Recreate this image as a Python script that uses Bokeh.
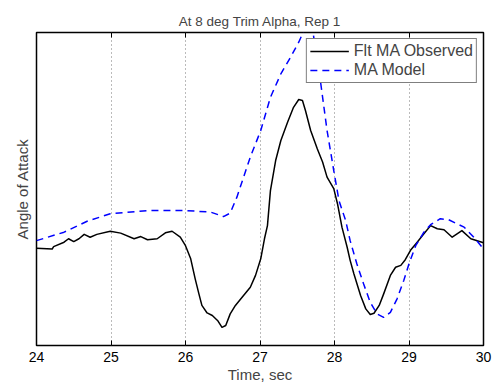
from bokeh.plotting import figure
from bokeh.models import Range1d, LinearAxis, FixedTicker, Legend, LegendItem
from bokeh.embed import file_html
from bokeh.resources import INLINE

# Observed flight data (time, angle of attack in arbitrary units)
obs_t = [24.00, 24.21, 24.23, 24.37, 24.43, 24.50, 24.57, 24.64, 24.72, 24.81,
         24.99, 25.13, 25.31, 25.40, 25.49, 25.62, 25.73, 25.82, 25.93, 26.00,
         26.07, 26.13, 26.18, 26.22, 26.29, 26.36, 26.43, 26.49, 26.54, 26.60,
         26.67, 26.76, 26.87, 26.94, 27.01, 27.06, 27.10, 27.14, 27.21, 27.28,
         27.37, 27.45, 27.52, 27.57, 27.61, 27.68, 27.77, 27.84, 27.90, 27.99,
         28.04, 28.10, 28.17, 28.21, 28.26, 28.35, 28.42, 28.48, 28.53, 28.60,
         28.66, 28.75, 28.82, 28.89, 28.95, 29.02, 29.11, 29.20, 29.29, 29.38,
         29.47, 29.58, 29.71, 29.83, 30.00]
obs_y = [3.11, 3.08, 3.16, 3.30, 3.41, 3.32, 3.41, 3.55, 3.46, 3.55,
         3.65, 3.59, 3.41, 3.48, 3.38, 3.41, 3.60, 3.65, 3.46, 3.19,
         2.77, 2.13, 1.65, 1.28, 1.04, 0.96, 0.80, 0.58, 0.64, 1.01,
         1.28, 1.54, 1.86, 2.24, 2.77, 3.41, 3.83, 4.95, 5.91, 6.55,
         7.13, 7.61, 7.86, 7.83, 7.51, 6.87, 6.28, 5.86, 5.38, 5.01,
         4.53, 3.78, 3.14, 2.72, 2.29, 1.60, 1.17, 0.99, 1.03, 1.28,
         1.65, 2.24, 2.50, 2.56, 2.74, 3.04, 3.30, 3.57, 3.83, 3.73,
         3.70, 3.46, 3.67, 3.41, 3.28]

# Model output
mod_t = [24.00, 24.37, 24.68, 24.99, 25.49, 26.02, 26.34, 26.51, 26.60, 26.69,
         26.78, 26.87, 27.01, 27.14, 27.28, 27.41, 27.52, 27.59, 27.68, 27.81,
         27.90, 27.99, 28.06, 28.15, 28.21, 28.30, 28.39, 28.48, 28.57, 28.66,
         28.75, 28.84, 28.93, 29.00, 29.09, 29.20, 29.29, 29.42, 29.53, 29.74,
         29.87, 30.00]
mod_y = [3.35, 3.62, 3.97, 4.21, 4.31, 4.31, 4.26, 4.12, 4.23, 4.74,
         5.38, 6.02, 6.87, 7.93, 8.68, 9.21, 9.69, 10.06, 10.50, 8.47,
         6.87, 5.59, 4.63, 3.99, 3.35, 2.61, 1.97, 1.38, 1.01, 0.90,
         1.06, 1.49, 2.08, 2.61, 3.19, 3.62, 3.86, 4.05, 4.02, 3.78,
         3.46, 3.09]

x_ticks = [24, 25, 26, 27, 28, 29, 30]

FONT = "Liberation Sans"

p = figure(width=494, height=387, output_backend="svg", toolbar_location=None,
           x_range=Range1d(24, 30), y_range=Range1d(0, 10),
           min_border_left=36, min_border_right=11, min_border_top=32, min_border_bottom=42,
           title="At 8 deg Trim Alpha, Rep 1")

p.title.text_font = FONT
p.title.text_font_size = "13.5px"
p.title.text_font_style = "normal"
p.title.align = "center"
p.title.offset = 0
p.title.standoff = 8

p.outline_line_color = "black"
p.outline_line_width = 1.5
p.background_fill_color = "white"

# x axis
p.xaxis.ticker = FixedTicker(ticks=x_ticks)
p.xaxis.major_tick_in = 5
p.xaxis.major_tick_out = 0
p.xaxis.minor_tick_line_color = None
p.xaxis.axis_line_color = None
p.xaxis.major_label_text_font = FONT
p.xaxis.major_label_text_font_size = "14px"
p.xaxis.major_label_text_color = "black"
p.xaxis.major_label_standoff = 6
p.xaxis.axis_label = "Time, sec"
p.xaxis.axis_label_text_font = FONT
p.xaxis.axis_label_text_font_size = "15px"
p.xaxis.axis_label_text_font_style = "normal"
p.xaxis.axis_label_standoff = 1

# y axis: no ticks
p.yaxis.ticker = FixedTicker(ticks=[])
p.yaxis.major_tick_line_color = None
p.yaxis.minor_tick_line_color = None
p.yaxis.axis_line_color = None
p.yaxis.major_label_text_color = None
p.yaxis.axis_label = "Angle of Attack"
p.yaxis.axis_label_text_font = FONT
p.yaxis.axis_label_text_font_size = "15px"
p.yaxis.axis_label_text_font_style = "normal"
p.yaxis.axis_label_standoff = 6

# top axis with inward ticks only
top = LinearAxis(ticker=FixedTicker(ticks=x_ticks), major_tick_in=5, major_tick_out=0,
                 minor_tick_line_color=None, axis_line_color=None,
                 major_label_text_color=None, major_label_standoff=0)
p.add_layout(top, "above")

# grid
p.xgrid.ticker = FixedTicker(ticks=x_ticks)
p.xgrid.grid_line_color = "#777777"
p.xgrid.grid_line_dash = "1 3"
p.xgrid.grid_line_width = 1
p.ygrid.grid_line_color = None

r1 = p.line(obs_t, obs_y, line_color="black", line_width=1.5, line_join="round")
r2 = p.line(mod_t, mod_y, line_color="#0000FF", line_width=1.5, line_dash="7 5")

legend = Legend(items=[LegendItem(label="Flt MA Observed", renderers=[r1]),
                       LegendItem(label="MA Model", renderers=[r2])],
                location="top_right")
legend.label_text_font = FONT
legend.label_text_font_size = "16px"
legend.label_height = 18
legend.glyph_height = 18
legend.glyph_width = 39
legend.label_standoff = 5
legend.spacing = 1
legend.padding = 3
legend.margin = 6
legend.border_line_color = "black"
legend.border_line_width = 1.5
legend.background_fill_color = "white"
legend.background_fill_alpha = 1.0
p.add_layout(legend, "center")

open("out.html", "w").write(file_html(p, INLINE))
